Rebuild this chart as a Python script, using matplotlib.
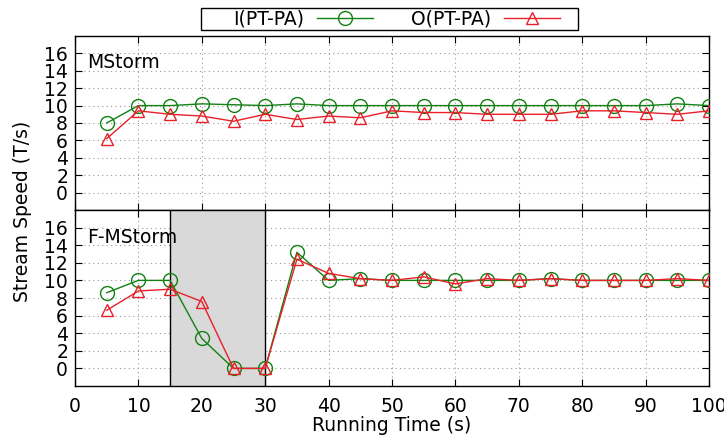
import numpy as np
import matplotlib
matplotlib.use("Agg")
from matplotlib import pyplot as plt
from matplotlib.patches import Rectangle

# running time (s)
time = [5, 10, 15, 20, 25, 30, 35, 40, 45, 50, 55, 60, 65, 70, 75, 80, 85, 90, 95, 100]

# MStorm panel
mstorm_in = [8.0, 10.0, 10.0, 10.2, 10.1, 10.0, 10.2, 10.0, 10.0, 10.0,
             10.0, 10.0, 10.0, 10.0, 10.0, 10.0, 10.0, 10.0, 10.2, 10.0]
mstorm_out = [6.2, 9.4, 9.0, 8.8, 8.2, 9.0, 8.4, 8.8, 8.6, 9.4,
              9.2, 9.2, 9.0, 9.0, 9.0, 9.4, 9.4, 9.2, 9.0, 9.4]

# F-MStorm panel
fmstorm_in = [8.6, 10.0, 10.0, 3.4, 0.0, 0.0, 13.2, 10.0, 10.2, 10.0,
              10.0, 10.0, 10.0, 10.0, 10.2, 10.0, 10.0, 10.0, 10.0, 10.0]
fmstorm_out = [6.6, 8.8, 9.0, 7.6, 0.0, 0.0, 12.4, 10.8, 10.2, 10.0,
               10.4, 9.6, 10.2, 10.0, 10.2, 10.0, 10.0, 10.0, 10.2, 10.0]

failure_span = (15, 30)

green = "#128012"
red = "#e8202a"
fs = 13.5

fig = plt.figure(figsize=(7.24, 4.41), dpi=100)
left, right = 75 / 724, 709 / 724
ax_top = fig.add_axes([left, 1 - 210 / 441, right - left, 174 / 441])
ax_bot = fig.add_axes([left, 1 - 386 / 441, right - left, 176 / 441])


def style(ax, name, in_vals, out_vals):
    ax.plot(time, in_vals, color=green, lw=1.0, marker="o", ms=10,
            mfc="none", mec=green, mew=1.0, label="I(PT-PA)", zorder=4)
    ax.plot(time, out_vals, color=red, lw=1.0, marker="^", ms=9,
            mfc="none", mec=red, mew=1.0, label="O(PT-PA)", zorder=5)
    ax.set_xlim(0, 100)
    ax.set_ylim(-2, 18)
    ax.set_xticks(range(0, 101, 10))
    ax.set_yticks(range(0, 17, 2))
    ax.grid(True, linestyle=(0, (1, 3)), color="#999999", lw=0.8)
    ax.tick_params(direction="in", length=5, top=True, right=True,
                   labelsize=fs, width=0.8)
    ax.tick_params(axis="x", pad=8)
    ax.tick_params(axis="y", pad=5)
    for s in ax.spines.values():
        s.set_linewidth(1.0)
    ax.text(1.9, 14.9, name, fontsize=fs, va="center", ha="left")


style(ax_top, "MStorm", mstorm_in, mstorm_out)
style(ax_bot, "F-MStorm", fmstorm_in, fmstorm_out)
ax_top.tick_params(labelbottom=False)

ax_bot.axvspan(*failure_span, color="#d9d9d9", zorder=2, lw=0)
for xv in failure_span:
    ax_bot.axvline(xv, color="black", lw=1.0, zorder=3)

ax_bot.set_xlabel("Running Time (s)", fontsize=fs, labelpad=0)
fig.text(23 / 724, 0.52, "Stream Speed (T/s)", rotation=90, fontsize=fs,
         ha="center", va="center")

# legend box (gnuplot style: wide frame, text before sample)
fig.patches.append(Rectangle((201 / 724, 1 - 30 / 441), 377 / 724, 22 / 441,
                             transform=fig.transFigure, fill=False,
                             edgecolor="black", lw=1.0))
h, l = ax_top.get_legend_handles_labels()
fig.legend(h, l, loc="center left", bbox_to_anchor=(233 / 724, 1 - 19 / 441),
           ncol=2, fontsize=fs, frameon=False, markerfirst=False,
           handlelength=3.0, borderpad=0, borderaxespad=0,
           columnspacing=2.0, handletextpad=0.7)

plt.savefig("out.png", dpi=100)
